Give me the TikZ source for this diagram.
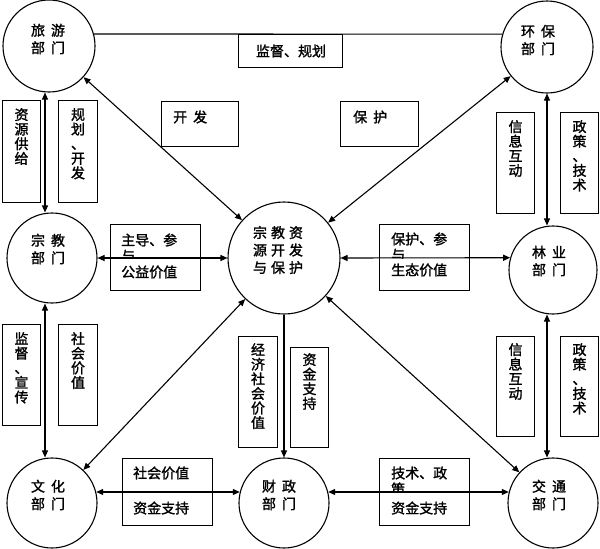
\documentclass[tikz,border=0pt]{standalone}
\usepackage{fontspec}
\setmainfont{Noto Sans CJK SC}[AutoFakeBold=1.5]
\usetikzlibrary{arrows.meta,calc}
\begin{document}
\begin{tikzpicture}[x=1pt,y=-1pt,
  dept/.style={circle,draw,line width=1.1pt,inner sep=0pt},
  dlab/.style={font=\fontsize{14}{17.5}\selectfont\bfseries,align=center,inner sep=0pt},
  tbox/.style={draw,line width=1pt,inner sep=0pt,anchor=north west},
  vtxt/.style={font=\fontsize{14}{14.6}\selectfont\bfseries,align=center,inner sep=0pt,anchor=north},
  htxt/.style={font=\fontsize{14}{16}\selectfont\bfseries,inner sep=0pt,anchor=west},
  link/.style={line width=1.1pt},
  dbl/.style={link,{Triangle[length=7pt,width=6pt]}-{Triangle[length=7pt,width=6pt]}},
  one/.style={link,-{Triangle[length=7pt,width=6pt]}}]
\useasboundingbox[fill=white] (0,0) rectangle (600,549);

% departments
\node[dept,minimum size=92pt] (lv) at (49,46) {};
\node[dept,minimum size=92pt] (hb) at (547,47) {};
\node[dept,minimum size=90pt] (zj) at (52,258) {};
\node[dept,minimum size=112pt] (cen) at (284,258) {};
\node[dept,minimum size=88pt] (ly) at (553,270) {};
\node[dept,minimum size=90pt] (wh) at (52,503) {};
\node[dept,minimum size=90pt] (cai) at (284,503) {};
\node[dept,minimum size=90pt] (jt) at (553,503) {};

\node[dlab] (llv) at ($(lv)+(-1,-7)$) {旅\hspace{6pt}游\\部\hspace{6pt}门};
\node[dlab] (lhb) at ($(hb)+(-9,-7)$) {环\hspace{6pt}保\\部\hspace{6pt}门};
\node[dlab] (lzj) at ($(zj)+(-4,-9)$) {宗\hspace{6pt}教\\部\hspace{6pt}门};
\node[dlab] (lcen) at (278,250) {宗\hspace{4pt}教\hspace{4pt}资\\源\hspace{4pt}开\hspace{4pt}发\\与\hspace{4pt}保\hspace{4pt}护};
\node[dlab] (lly) at ($(ly)+(-4,-9)$) {林\hspace{6pt}业\\部\hspace{6pt}门};
\node[dlab] (lwh) at ($(wh)+(-4,-8)$) {文\hspace{6pt}化\\部\hspace{6pt}门};
\node[dlab] (lcai) at ($(cai)+(-5,-8)$) {财\hspace{6pt}政\\部\hspace{6pt}门};
\node[dlab] (ljt) at ($(jt)+(-4,-8)$) {交\hspace{6pt}通\\部\hspace{6pt}门};

% connectors
\draw[link] (lv.15) -- (hb.164);
\draw[dbl] ([xshift=-4pt]lv.south) -- ([xshift=-4pt]lv.south |- zj.north);
\draw[dbl] ([xshift=-7pt]zj.south) -- ([xshift=-7pt]wh.north);
\draw[dbl] (hb.south) -- (hb.south |- ly.north);
\draw[dbl] ([xshift=-6pt]ly.south) -- ([xshift=-6pt]jt.north);
\draw[dbl] (zj.east) -- (cen.west);
\draw[dbl] (cen.east) -- (ly.164);
\draw[dbl] (wh.14) -- (cai.166);
\draw[dbl] (cai.14) -- (jt.166);
\draw[dbl] (lv) -- (cen);
\draw[dbl] (hb) -- (cen);
\draw[dbl] (wh) -- (cen);
\draw[dbl] (jt) -- (cen);
\draw[one] (cen) -- (cai);

% boxes
\node[tbox,minimum width=104pt,minimum height=33pt] (b1) at (238,34) {};
\node[htxt,anchor=center] (t1) at (291,51) {监督、规划};

\node[tbox,minimum width=38pt,minimum height=102pt] (b2) at (2,100) {};
\node[vtxt] (t2) at ($(b2.north)+(0,8)$) {资\\源\\供\\给};
\node[tbox,minimum width=39pt,minimum height=102pt] (b3) at (58,100) {};
\node[vtxt] (t3) at ($(b3.north)+(0,8)$) {规\\划\\、\\开\\发};

\node[tbox,minimum width=77pt,minimum height=45pt] (b4) at (161,101) {};
\node[htxt] (t4) at (173,117) {开\hspace{6pt}发};
\node[tbox,minimum width=78pt,minimum height=45pt] (b5) at (340,101) {};
\node[htxt] (t5) at (353,117) {保\hspace{6pt}护};

\node[tbox,minimum width=38pt,minimum height=101pt] (b6) at (496,112) {};
\node[vtxt] (t6) at ($(b6.north)+(0,8)$) {信\\息\\互\\动};
\node[tbox,minimum width=38pt,minimum height=101pt] (b7) at (560,112) {};
\node[vtxt] (t7) at ($(b7.north)+(0,8)$) {政\\策\\、\\技\\术};

\node[tbox,minimum width=90pt,minimum height=66pt] (b8) at (110,224) {};
\node[htxt] (t8a) at (121,240) {主导、参};
\begin{scope}
\clip (110,240) rectangle (200,258);
\node[htxt] (t8b) at (121,256) {与};
\end{scope}
\node[htxt] (t8c) at (121,272) {公益价值};

\node[tbox,minimum width=90pt,minimum height=66pt] (b9) at (379,224) {};
\node[htxt] (t9a) at (391,239) {保护、参};
\begin{scope}
\clip (379,240) rectangle (469,258);
\node[htxt] (t9b) at (391,255) {与};
\end{scope}
\node[htxt] (t9c) at (391,270) {生态价值};

\node[tbox,minimum width=38pt,minimum height=101pt] (b10) at (2,324) {};
\node[vtxt] (t10) at ($(b10.north)+(0,8)$) {监\\督\\、\\宣\\传};
\node[tbox,minimum width=39pt,minimum height=101pt] (b11) at (58,324) {};
\node[vtxt] (t11) at ($(b11.north)+(0,8)$) {社\\会\\价\\值};

\node[tbox,minimum width=39pt,minimum height=111pt] (b12) at (238,336) {};
\node[vtxt] (t12) at ($(b12.north)+(0,7)$) {经\\济\\社\\会\\价\\值};
\node[tbox,minimum width=38pt,minimum height=100pt] (b13) at (290,347) {};
\node[vtxt] (t13) at ($(b13.north)+(0,6)$) {资\\金\\支\\持};

\node[tbox,minimum width=38pt,minimum height=100pt] (b14) at (496,336) {};
\node[vtxt] (t14) at ($(b14.north)+(0,7)$) {信\\息\\互\\动};
\node[tbox,minimum width=38pt,minimum height=100pt] (b15) at (560,336) {};
\node[vtxt] (t15) at ($(b15.north)+(0,7)$) {政\\策\\、\\技\\术};

\node[tbox,minimum width=90pt,minimum height=67pt] (b16) at (122,458) {};
\node[htxt] (t16a) at (133,473) {社会价值};
\node[htxt] (t16b) at (133,508) {资金支持};

\node[tbox,minimum width=90pt,minimum height=67pt] (b17) at (379,458) {};
\node[htxt] (t17a) at (391,473) {技术、政};
\begin{scope}
\clip (379,470) rectangle (469,491);
\node[htxt] (t17b) at (391,489) {策};
\end{scope}
\node[htxt] (t17c) at (391,508) {资金支持};
\end{tikzpicture}
\end{document}
